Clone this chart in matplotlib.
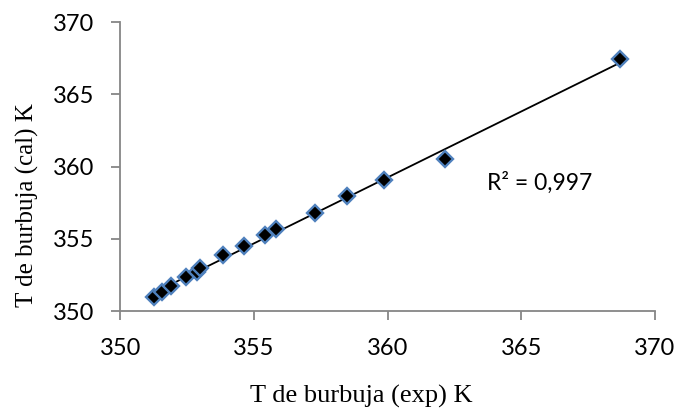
"""Scatter of experimental vs calculated bubble temperature with linear trendline."""
import matplotlib
matplotlib.use("Agg")
import matplotlib.pyplot as plt
import numpy as np

# data
t_exp = [351.26, 351.55, 351.88, 352.46, 352.86, 352.97, 353.86, 354.64,
         355.43, 355.83, 357.27, 358.48, 359.85, 362.16, 368.69]
t_cal = [350.99, 351.33, 351.73, 352.37, 352.73, 352.97, 353.87, 354.50,
         355.28, 355.65, 356.80, 357.95, 359.06, 360.51, 367.41]
ticks = [350, 355, 360, 365, 370]
r2_label = "R² = 0,997"

AXIS_GRAY = "#868686"
EDGE_BLUE = "#4F81BD"
W, H = 678, 412

x = np.array(t_exp)
y = np.array(t_cal)
slope, icpt = np.polyfit(x, y, 1)
xl = np.array([x.min(), x.max()])

fig = plt.figure(figsize=(W / 100, H / 100), dpi=100)
ax = fig.add_axes([0.1774, 0.2451, 0.966 - 0.1774, 0.9466 - 0.2451])

ax.plot(xl, slope * xl + icpt, color="black", lw=1.3, zorder=2)
ax.plot(x, y, ls="none", marker="D", ms=8, mfc="black", mec=EDGE_BLUE,
        mew=1.7, zorder=3)

ax.set_xlim(350, 370)
ax.set_ylim(350, 370)
ax.set_xticks(ticks)
ax.set_yticks(ticks)

for s in ("top", "right"):
    ax.spines[s].set_visible(False)
for s in ("left", "bottom"):
    ax.spines[s].set_color(AXIS_GRAY)
    ax.spines[s].set_linewidth(1.3)
    ax.spines[s].set_zorder(1)
ax.tick_params(direction="out", length=6.5, width=1.3, color=AXIS_GRAY,
               labelsize=17)
ax.tick_params(axis="x", pad=13)
ax.tick_params(axis="y", pad=12)
for lab in ax.get_xticklabels() + ax.get_yticklabels():
    lab.set_fontfamily("Lato")

# axis titles sit off-centre in the reference, so place them on the figure
fig.text(361.5 / W, 1 - 403 / H, "T de burbuja (exp) K",
         family="Liberation Serif", fontsize=19, ha="center", va="baseline")
fig.text(27 / W, 1 - 205 / H, "T de burbuja (cal) K",
         family="Liberation Serif", fontsize=18, ha="center", va="center",
         rotation=90)

ax.text(363.7, 358.37, r2_label, family="Lato", fontsize=16.5,
        va="baseline", ha="left")

fig.savefig("out.png", dpi=100)
